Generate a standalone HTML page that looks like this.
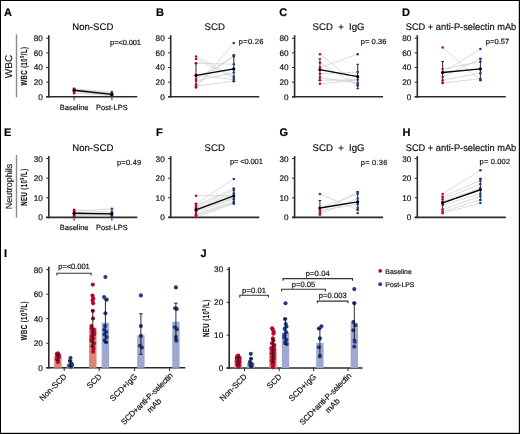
<!DOCTYPE html>
<html><head><meta charset="utf-8"><style>
html,body{margin:0;padding:0;background:#fff;}
body{width:520px;height:434px;overflow:hidden;}
svg{display:block;font-family:"Liberation Sans", sans-serif;will-change:transform;text-rendering:geometricPrecision;}
text{stroke-width:0.18px;}
</style></head><body>
<svg width="520" height="434" viewBox="0 0 520 434">
<rect x="0" y="0" width="520" height="434" fill="#fff"/>
<text x="3.90" y="15.80" font-size="11" text-anchor="start" fill="#000" stroke="#000" font-weight="bold" >A</text>
<text x="156.00" y="15.80" font-size="11" text-anchor="start" fill="#000" stroke="#000" font-weight="bold" >B</text>
<text x="279.20" y="15.80" font-size="11" text-anchor="start" fill="#000" stroke="#000" font-weight="bold" >C</text>
<text x="402.10" y="15.80" font-size="11" text-anchor="start" fill="#000" stroke="#000" font-weight="bold" >D</text>
<text x="4.10" y="136.40" font-size="11" text-anchor="start" fill="#000" stroke="#000" font-weight="bold" >E</text>
<text x="156.00" y="136.40" font-size="11" text-anchor="start" fill="#000" stroke="#000" font-weight="bold" >F</text>
<text x="279.50" y="136.40" font-size="11" text-anchor="start" fill="#000" stroke="#000" font-weight="bold" >G</text>
<text x="402.40" y="136.40" font-size="11" text-anchor="start" fill="#000" stroke="#000" font-weight="bold" >H</text>
<text x="4.00" y="256.80" font-size="11" text-anchor="start" fill="#000" stroke="#000" font-weight="bold" >I</text>
<text x="200.40" y="256.80" font-size="11" text-anchor="start" fill="#000" stroke="#000" font-weight="bold" >J</text>
<line x1="48.80" y1="35.20" x2="48.80" y2="97.60" stroke="#2a2a2a" stroke-width="1.6" />
<line x1="46.20" y1="96.80" x2="137.30" y2="96.80" stroke="#2a2a2a" stroke-width="1.6" />
<line x1="46.20" y1="96.80" x2="48.80" y2="96.80" stroke="#2a2a2a" stroke-width="1.0" />
<text x="42.80" y="99.75" font-size="8.2" text-anchor="end" fill="#111" stroke="#111" font-weight="normal" >0</text>
<line x1="46.20" y1="82.15" x2="48.80" y2="82.15" stroke="#2a2a2a" stroke-width="1.0" />
<text x="42.80" y="85.10" font-size="8.2" text-anchor="end" fill="#111" stroke="#111" font-weight="normal" >20</text>
<line x1="46.20" y1="67.50" x2="48.80" y2="67.50" stroke="#2a2a2a" stroke-width="1.0" />
<text x="42.80" y="70.45" font-size="8.2" text-anchor="end" fill="#111" stroke="#111" font-weight="normal" >40</text>
<line x1="46.20" y1="52.85" x2="48.80" y2="52.85" stroke="#2a2a2a" stroke-width="1.0" />
<text x="42.80" y="55.80" font-size="8.2" text-anchor="end" fill="#111" stroke="#111" font-weight="normal" >60</text>
<line x1="46.20" y1="38.20" x2="48.80" y2="38.20" stroke="#2a2a2a" stroke-width="1.0" />
<text x="42.80" y="41.15" font-size="8.2" text-anchor="end" fill="#111" stroke="#111" font-weight="normal" >80</text>
<line x1="74.10" y1="96.80" x2="74.10" y2="100.20" stroke="#2a2a2a" stroke-width="1.0" />
<line x1="111.90" y1="96.80" x2="111.90" y2="100.20" stroke="#2a2a2a" stroke-width="1.0" />
<text x="92.80" y="30.20" font-size="9.6" text-anchor="middle" fill="#111" stroke="#111" font-weight="normal" >Non-SCD</text>
<text x="110.10" y="44.90" font-size="7.5" text-anchor="start" fill="#111" stroke="#111" font-weight="normal" textLength="30.9" lengthAdjust="spacing">p=&lt;0.001</text>
<line x1="74.10" y1="88.74" x2="111.90" y2="92.04" stroke="#c2c2c2" stroke-width="0.6" />
<line x1="74.10" y1="89.47" x2="111.90" y2="93.14" stroke="#c2c2c2" stroke-width="0.6" />
<line x1="74.10" y1="90.21" x2="111.90" y2="93.87" stroke="#c2c2c2" stroke-width="0.6" />
<line x1="74.10" y1="90.94" x2="111.90" y2="94.60" stroke="#c2c2c2" stroke-width="0.6" />
<line x1="74.10" y1="91.67" x2="111.90" y2="95.33" stroke="#c2c2c2" stroke-width="0.6" />
<line x1="74.10" y1="93.14" x2="111.90" y2="95.70" stroke="#c2c2c2" stroke-width="0.6" />
<line x1="74.10" y1="88.38" x2="74.10" y2="92.04" stroke="#3a3a3a" stroke-width="1.1" />
<line x1="72.70" y1="88.38" x2="75.50" y2="88.38" stroke="#222" stroke-width="0.95" />
<line x1="72.70" y1="92.04" x2="75.50" y2="92.04" stroke="#222" stroke-width="0.95" />
<line x1="111.90" y1="92.77" x2="111.90" y2="96.07" stroke="#3a3a3a" stroke-width="1.1" />
<line x1="110.50" y1="92.77" x2="113.30" y2="92.77" stroke="#222" stroke-width="0.95" />
<line x1="110.50" y1="96.07" x2="113.30" y2="96.07" stroke="#222" stroke-width="0.95" />
<circle cx="74.10" cy="88.74" r="1.25" fill="#b8062c"/>
<circle cx="74.10" cy="89.47" r="1.25" fill="#b8062c"/>
<circle cx="74.10" cy="90.21" r="1.25" fill="#b8062c"/>
<circle cx="74.10" cy="90.94" r="1.25" fill="#b8062c"/>
<circle cx="74.10" cy="91.67" r="1.25" fill="#b8062c"/>
<circle cx="74.10" cy="93.14" r="1.25" fill="#b8062c"/>
<circle cx="111.90" cy="92.04" r="1.25" fill="#1c3c82"/>
<circle cx="111.90" cy="93.14" r="1.25" fill="#1c3c82"/>
<circle cx="111.90" cy="93.87" r="1.25" fill="#1c3c82"/>
<circle cx="111.90" cy="94.60" r="1.25" fill="#1c3c82"/>
<circle cx="111.90" cy="95.33" r="1.25" fill="#1c3c82"/>
<circle cx="111.90" cy="95.70" r="1.25" fill="#1c3c82"/>
<line x1="74.10" y1="90.21" x2="111.90" y2="94.38" stroke="#000" stroke-width="1.35" />
<circle cx="74.10" cy="90.21" r="1.55" fill="#000"/>
<circle cx="111.90" cy="94.38" r="1.55" fill="#000"/>
<text x="74.10" y="110.00" font-size="7.5" text-anchor="middle" fill="#111" stroke="#111" font-weight="normal" >Baseline</text>
<text x="111.90" y="110.00" font-size="7.5" text-anchor="middle" fill="#111" stroke="#111" font-weight="normal" >Post-LPS</text>
<line x1="170.70" y1="35.20" x2="170.70" y2="97.60" stroke="#2a2a2a" stroke-width="1.6" />
<line x1="168.10" y1="96.80" x2="259.20" y2="96.80" stroke="#2a2a2a" stroke-width="1.6" />
<line x1="168.10" y1="96.80" x2="170.70" y2="96.80" stroke="#2a2a2a" stroke-width="1.0" />
<text x="164.70" y="99.75" font-size="8.2" text-anchor="end" fill="#111" stroke="#111" font-weight="normal" >0</text>
<line x1="168.10" y1="82.15" x2="170.70" y2="82.15" stroke="#2a2a2a" stroke-width="1.0" />
<text x="164.70" y="85.10" font-size="8.2" text-anchor="end" fill="#111" stroke="#111" font-weight="normal" >20</text>
<line x1="168.10" y1="67.50" x2="170.70" y2="67.50" stroke="#2a2a2a" stroke-width="1.0" />
<text x="164.70" y="70.45" font-size="8.2" text-anchor="end" fill="#111" stroke="#111" font-weight="normal" >40</text>
<line x1="168.10" y1="52.85" x2="170.70" y2="52.85" stroke="#2a2a2a" stroke-width="1.0" />
<text x="164.70" y="55.80" font-size="8.2" text-anchor="end" fill="#111" stroke="#111" font-weight="normal" >60</text>
<line x1="168.10" y1="38.20" x2="170.70" y2="38.20" stroke="#2a2a2a" stroke-width="1.0" />
<text x="164.70" y="41.15" font-size="8.2" text-anchor="end" fill="#111" stroke="#111" font-weight="normal" >80</text>
<text x="214.70" y="30.20" font-size="9.6" text-anchor="middle" fill="#111" stroke="#111" font-weight="normal" >SCD</text>
<text x="238.80" y="44.00" font-size="7.5" text-anchor="start" fill="#111" stroke="#111" font-weight="normal" textLength="24.5" lengthAdjust="spacing">p=0.26</text>
<line x1="196.00" y1="56.44" x2="233.80" y2="76.44" stroke="#c2c2c2" stroke-width="0.6" />
<line x1="196.00" y1="59.00" x2="233.80" y2="77.90" stroke="#c2c2c2" stroke-width="0.6" />
<line x1="196.00" y1="63.25" x2="233.80" y2="64.20" stroke="#c2c2c2" stroke-width="0.6" />
<line x1="196.00" y1="74.90" x2="233.80" y2="79.66" stroke="#c2c2c2" stroke-width="0.6" />
<line x1="196.00" y1="76.07" x2="233.80" y2="69.55" stroke="#c2c2c2" stroke-width="0.6" />
<line x1="196.00" y1="79.07" x2="233.80" y2="56.59" stroke="#c2c2c2" stroke-width="0.6" />
<line x1="196.00" y1="80.90" x2="233.80" y2="72.55" stroke="#c2c2c2" stroke-width="0.6" />
<line x1="196.00" y1="84.49" x2="233.80" y2="55.19" stroke="#c2c2c2" stroke-width="0.6" />
<line x1="196.00" y1="85.96" x2="233.80" y2="81.20" stroke="#c2c2c2" stroke-width="0.6" />
<line x1="196.00" y1="87.42" x2="233.80" y2="43.03" stroke="#c2c2c2" stroke-width="0.6" />
<line x1="196.00" y1="63.25" x2="196.00" y2="87.13" stroke="#3a3a3a" stroke-width="1.1" />
<line x1="194.60" y1="63.25" x2="197.40" y2="63.25" stroke="#222" stroke-width="0.95" />
<line x1="194.60" y1="87.13" x2="197.40" y2="87.13" stroke="#222" stroke-width="0.95" />
<line x1="233.80" y1="55.05" x2="233.80" y2="81.27" stroke="#3a3a3a" stroke-width="1.1" />
<line x1="232.40" y1="55.05" x2="235.20" y2="55.05" stroke="#222" stroke-width="0.95" />
<line x1="232.40" y1="81.27" x2="235.20" y2="81.27" stroke="#222" stroke-width="0.95" />
<circle cx="196.00" cy="56.44" r="1.25" fill="#b8062c"/>
<circle cx="196.00" cy="59.00" r="1.25" fill="#b8062c"/>
<circle cx="196.00" cy="63.25" r="1.25" fill="#b8062c"/>
<circle cx="196.00" cy="74.90" r="1.25" fill="#b8062c"/>
<circle cx="196.00" cy="76.07" r="1.25" fill="#b8062c"/>
<circle cx="196.00" cy="79.07" r="1.25" fill="#b8062c"/>
<circle cx="196.00" cy="80.90" r="1.25" fill="#b8062c"/>
<circle cx="196.00" cy="84.49" r="1.25" fill="#b8062c"/>
<circle cx="196.00" cy="85.96" r="1.25" fill="#b8062c"/>
<circle cx="196.00" cy="87.42" r="1.25" fill="#b8062c"/>
<circle cx="233.80" cy="43.03" r="1.25" fill="#1c3c82"/>
<circle cx="233.80" cy="55.19" r="1.25" fill="#1c3c82"/>
<circle cx="233.80" cy="56.59" r="1.25" fill="#1c3c82"/>
<circle cx="233.80" cy="64.20" r="1.25" fill="#1c3c82"/>
<circle cx="233.80" cy="69.55" r="1.25" fill="#1c3c82"/>
<circle cx="233.80" cy="72.55" r="1.25" fill="#1c3c82"/>
<circle cx="233.80" cy="76.44" r="1.25" fill="#1c3c82"/>
<circle cx="233.80" cy="77.90" r="1.25" fill="#1c3c82"/>
<circle cx="233.80" cy="79.66" r="1.25" fill="#1c3c82"/>
<circle cx="233.80" cy="81.20" r="1.25" fill="#1c3c82"/>
<line x1="196.00" y1="75.34" x2="233.80" y2="68.82" stroke="#000" stroke-width="1.35" />
<circle cx="196.00" cy="75.34" r="1.55" fill="#000"/>
<circle cx="233.80" cy="68.82" r="1.55" fill="#000"/>
<line x1="294.60" y1="35.20" x2="294.60" y2="97.60" stroke="#2a2a2a" stroke-width="1.6" />
<line x1="292.00" y1="96.80" x2="383.10" y2="96.80" stroke="#2a2a2a" stroke-width="1.6" />
<line x1="292.00" y1="96.80" x2="294.60" y2="96.80" stroke="#2a2a2a" stroke-width="1.0" />
<text x="288.60" y="99.75" font-size="8.2" text-anchor="end" fill="#111" stroke="#111" font-weight="normal" >0</text>
<line x1="292.00" y1="82.15" x2="294.60" y2="82.15" stroke="#2a2a2a" stroke-width="1.0" />
<text x="288.60" y="85.10" font-size="8.2" text-anchor="end" fill="#111" stroke="#111" font-weight="normal" >20</text>
<line x1="292.00" y1="67.50" x2="294.60" y2="67.50" stroke="#2a2a2a" stroke-width="1.0" />
<text x="288.60" y="70.45" font-size="8.2" text-anchor="end" fill="#111" stroke="#111" font-weight="normal" >40</text>
<line x1="292.00" y1="52.85" x2="294.60" y2="52.85" stroke="#2a2a2a" stroke-width="1.0" />
<text x="288.60" y="55.80" font-size="8.2" text-anchor="end" fill="#111" stroke="#111" font-weight="normal" >60</text>
<line x1="292.00" y1="38.20" x2="294.60" y2="38.20" stroke="#2a2a2a" stroke-width="1.0" />
<text x="288.60" y="41.15" font-size="8.2" text-anchor="end" fill="#111" stroke="#111" font-weight="normal" >80</text>
<text x="338.60" y="30.20" font-size="9.6" text-anchor="middle" fill="#111" stroke="#111" font-weight="normal" >SCD&#160; +&#160; IgG</text>
<text x="360.70" y="44.40" font-size="7.5" text-anchor="start" fill="#111" stroke="#111" font-weight="normal" textLength="25.8" lengthAdjust="spacing">p= 0.36</text>
<line x1="319.90" y1="54.17" x2="357.70" y2="84.64" stroke="#c2c2c2" stroke-width="0.6" />
<line x1="319.90" y1="62.81" x2="357.70" y2="85.81" stroke="#c2c2c2" stroke-width="0.6" />
<line x1="319.90" y1="67.43" x2="357.70" y2="54.17" stroke="#c2c2c2" stroke-width="0.6" />
<line x1="319.90" y1="73.80" x2="357.70" y2="72.11" stroke="#c2c2c2" stroke-width="0.6" />
<line x1="319.90" y1="77.54" x2="357.70" y2="83.10" stroke="#c2c2c2" stroke-width="0.6" />
<line x1="319.90" y1="83.83" x2="357.70" y2="79.73" stroke="#c2c2c2" stroke-width="0.6" />
<line x1="319.90" y1="80.32" x2="357.70" y2="79.73" stroke="#c2c2c2" stroke-width="0.6" />
<line x1="319.90" y1="58.71" x2="319.90" y2="80.39" stroke="#3a3a3a" stroke-width="1.1" />
<line x1="318.50" y1="58.71" x2="321.30" y2="58.71" stroke="#222" stroke-width="0.95" />
<line x1="318.50" y1="80.39" x2="321.30" y2="80.39" stroke="#222" stroke-width="0.95" />
<line x1="357.70" y1="64.28" x2="357.70" y2="88.74" stroke="#3a3a3a" stroke-width="1.1" />
<line x1="356.30" y1="64.28" x2="359.10" y2="64.28" stroke="#222" stroke-width="0.95" />
<line x1="356.30" y1="88.74" x2="359.10" y2="88.74" stroke="#222" stroke-width="0.95" />
<circle cx="319.90" cy="54.17" r="1.25" fill="#b8062c"/>
<circle cx="319.90" cy="62.81" r="1.25" fill="#b8062c"/>
<circle cx="319.90" cy="67.43" r="1.25" fill="#b8062c"/>
<circle cx="319.90" cy="73.80" r="1.25" fill="#b8062c"/>
<circle cx="319.90" cy="77.54" r="1.25" fill="#b8062c"/>
<circle cx="319.90" cy="83.83" r="1.25" fill="#b8062c"/>
<circle cx="319.90" cy="80.32" r="1.25" fill="#b8062c"/>
<circle cx="357.70" cy="54.17" r="1.25" fill="#1c3c82"/>
<circle cx="357.70" cy="72.11" r="1.25" fill="#1c3c82"/>
<circle cx="357.70" cy="79.73" r="1.25" fill="#1c3c82"/>
<circle cx="357.70" cy="83.10" r="1.25" fill="#1c3c82"/>
<circle cx="357.70" cy="84.64" r="1.25" fill="#1c3c82"/>
<circle cx="357.70" cy="85.81" r="1.25" fill="#1c3c82"/>
<line x1="319.90" y1="69.70" x2="357.70" y2="76.66" stroke="#000" stroke-width="1.35" />
<circle cx="319.90" cy="69.70" r="1.55" fill="#000"/>
<circle cx="357.70" cy="76.66" r="1.55" fill="#000"/>
<line x1="417.30" y1="35.20" x2="417.30" y2="97.60" stroke="#2a2a2a" stroke-width="1.6" />
<line x1="414.70" y1="96.80" x2="505.80" y2="96.80" stroke="#2a2a2a" stroke-width="1.6" />
<line x1="414.70" y1="96.80" x2="417.30" y2="96.80" stroke="#2a2a2a" stroke-width="1.0" />
<text x="411.30" y="99.75" font-size="8.2" text-anchor="end" fill="#111" stroke="#111" font-weight="normal" >0</text>
<line x1="414.70" y1="82.15" x2="417.30" y2="82.15" stroke="#2a2a2a" stroke-width="1.0" />
<text x="411.30" y="85.10" font-size="8.2" text-anchor="end" fill="#111" stroke="#111" font-weight="normal" >20</text>
<line x1="414.70" y1="67.50" x2="417.30" y2="67.50" stroke="#2a2a2a" stroke-width="1.0" />
<text x="411.30" y="70.45" font-size="8.2" text-anchor="end" fill="#111" stroke="#111" font-weight="normal" >40</text>
<line x1="414.70" y1="52.85" x2="417.30" y2="52.85" stroke="#2a2a2a" stroke-width="1.0" />
<text x="411.30" y="55.80" font-size="8.2" text-anchor="end" fill="#111" stroke="#111" font-weight="normal" >60</text>
<line x1="414.70" y1="38.20" x2="417.30" y2="38.20" stroke="#2a2a2a" stroke-width="1.0" />
<text x="411.30" y="41.15" font-size="8.2" text-anchor="end" fill="#111" stroke="#111" font-weight="normal" >80</text>
<text x="461.00" y="30.20" font-size="9.6" text-anchor="middle" fill="#111" stroke="#111" font-weight="normal" textLength="110.6" lengthAdjust="spacingAndGlyphs">SCD + anti-P-selectin mAb</text>
<text x="485.70" y="44.00" font-size="7.5" text-anchor="start" fill="#111" stroke="#111" font-weight="normal" textLength="23.5" lengthAdjust="spacing">p=0.57</text>
<line x1="442.60" y1="47.43" x2="480.40" y2="80.32" stroke="#c2c2c2" stroke-width="0.6" />
<line x1="442.60" y1="68.97" x2="480.40" y2="61.79" stroke="#c2c2c2" stroke-width="0.6" />
<line x1="442.60" y1="72.48" x2="480.40" y2="49.04" stroke="#c2c2c2" stroke-width="0.6" />
<line x1="442.60" y1="76.88" x2="480.40" y2="58.71" stroke="#c2c2c2" stroke-width="0.6" />
<line x1="442.60" y1="80.32" x2="480.40" y2="73.14" stroke="#c2c2c2" stroke-width="0.6" />
<line x1="442.60" y1="83.03" x2="480.40" y2="78.63" stroke="#c2c2c2" stroke-width="0.6" />
<line x1="442.60" y1="61.49" x2="442.60" y2="83.10" stroke="#3a3a3a" stroke-width="1.1" />
<line x1="441.20" y1="61.49" x2="444.00" y2="61.49" stroke="#222" stroke-width="0.95" />
<line x1="441.20" y1="83.10" x2="444.00" y2="83.10" stroke="#222" stroke-width="0.95" />
<line x1="480.40" y1="58.49" x2="480.40" y2="79.95" stroke="#3a3a3a" stroke-width="1.1" />
<line x1="479.00" y1="58.49" x2="481.80" y2="58.49" stroke="#222" stroke-width="0.95" />
<line x1="479.00" y1="79.95" x2="481.80" y2="79.95" stroke="#222" stroke-width="0.95" />
<circle cx="442.60" cy="47.43" r="1.25" fill="#b8062c"/>
<circle cx="442.60" cy="68.97" r="1.25" fill="#b8062c"/>
<circle cx="442.60" cy="72.48" r="1.25" fill="#b8062c"/>
<circle cx="442.60" cy="76.88" r="1.25" fill="#b8062c"/>
<circle cx="442.60" cy="80.32" r="1.25" fill="#b8062c"/>
<circle cx="442.60" cy="83.03" r="1.25" fill="#b8062c"/>
<circle cx="480.40" cy="49.04" r="1.25" fill="#1c3c82"/>
<circle cx="480.40" cy="58.71" r="1.25" fill="#1c3c82"/>
<circle cx="480.40" cy="61.79" r="1.25" fill="#1c3c82"/>
<circle cx="480.40" cy="73.14" r="1.25" fill="#1c3c82"/>
<circle cx="480.40" cy="78.63" r="1.25" fill="#1c3c82"/>
<circle cx="480.40" cy="80.32" r="1.25" fill="#1c3c82"/>
<line x1="442.60" y1="72.48" x2="480.40" y2="68.89" stroke="#000" stroke-width="1.35" />
<circle cx="442.60" cy="72.48" r="1.55" fill="#000"/>
<circle cx="480.40" cy="68.89" r="1.55" fill="#000"/>
<line x1="48.80" y1="156.00" x2="48.80" y2="218.20" stroke="#2a2a2a" stroke-width="1.6" />
<line x1="46.20" y1="217.40" x2="137.30" y2="217.40" stroke="#2a2a2a" stroke-width="1.6" />
<line x1="46.20" y1="217.40" x2="48.80" y2="217.40" stroke="#2a2a2a" stroke-width="1.0" />
<text x="42.80" y="220.35" font-size="8.2" text-anchor="end" fill="#111" stroke="#111" font-weight="normal" >0</text>
<line x1="46.20" y1="197.80" x2="48.80" y2="197.80" stroke="#2a2a2a" stroke-width="1.0" />
<text x="42.80" y="200.75" font-size="8.2" text-anchor="end" fill="#111" stroke="#111" font-weight="normal" >10</text>
<line x1="46.20" y1="178.20" x2="48.80" y2="178.20" stroke="#2a2a2a" stroke-width="1.0" />
<text x="42.80" y="181.15" font-size="8.2" text-anchor="end" fill="#111" stroke="#111" font-weight="normal" >20</text>
<line x1="46.20" y1="158.60" x2="48.80" y2="158.60" stroke="#2a2a2a" stroke-width="1.0" />
<text x="42.80" y="161.55" font-size="8.2" text-anchor="end" fill="#111" stroke="#111" font-weight="normal" >30</text>
<line x1="74.10" y1="217.40" x2="74.10" y2="220.80" stroke="#2a2a2a" stroke-width="1.0" />
<line x1="111.90" y1="217.40" x2="111.90" y2="220.80" stroke="#2a2a2a" stroke-width="1.0" />
<text x="92.80" y="151.00" font-size="9.6" text-anchor="middle" fill="#111" stroke="#111" font-weight="normal" >Non-SCD</text>
<text x="116.90" y="165.00" font-size="7.5" text-anchor="start" fill="#111" stroke="#111" font-weight="normal" textLength="24.3" lengthAdjust="spacing">p=0.49</text>
<line x1="74.10" y1="209.76" x2="111.90" y2="212.50" stroke="#c2c2c2" stroke-width="0.6" />
<line x1="74.10" y1="211.52" x2="111.90" y2="208.78" stroke="#c2c2c2" stroke-width="0.6" />
<line x1="74.10" y1="212.50" x2="111.90" y2="213.48" stroke="#c2c2c2" stroke-width="0.6" />
<line x1="74.10" y1="213.48" x2="111.90" y2="214.46" stroke="#c2c2c2" stroke-width="0.6" />
<line x1="74.10" y1="214.46" x2="111.90" y2="215.44" stroke="#c2c2c2" stroke-width="0.6" />
<line x1="74.10" y1="215.44" x2="111.90" y2="216.42" stroke="#c2c2c2" stroke-width="0.6" />
<line x1="74.10" y1="210.54" x2="74.10" y2="216.22" stroke="#3a3a3a" stroke-width="1.1" />
<line x1="72.70" y1="210.54" x2="75.50" y2="210.54" stroke="#222" stroke-width="0.95" />
<line x1="72.70" y1="216.22" x2="75.50" y2="216.22" stroke="#222" stroke-width="0.95" />
<line x1="111.90" y1="210.93" x2="111.90" y2="216.62" stroke="#3a3a3a" stroke-width="1.1" />
<line x1="110.50" y1="210.93" x2="113.30" y2="210.93" stroke="#222" stroke-width="0.95" />
<line x1="110.50" y1="216.62" x2="113.30" y2="216.62" stroke="#222" stroke-width="0.95" />
<circle cx="74.10" cy="209.76" r="1.25" fill="#b8062c"/>
<circle cx="74.10" cy="211.52" r="1.25" fill="#b8062c"/>
<circle cx="74.10" cy="212.50" r="1.25" fill="#b8062c"/>
<circle cx="74.10" cy="213.48" r="1.25" fill="#b8062c"/>
<circle cx="74.10" cy="214.46" r="1.25" fill="#b8062c"/>
<circle cx="74.10" cy="215.44" r="1.25" fill="#b8062c"/>
<circle cx="74.10" cy="216.42" r="1.25" fill="#b8062c"/>
<circle cx="111.90" cy="208.78" r="1.25" fill="#1c3c82"/>
<circle cx="111.90" cy="212.50" r="1.25" fill="#1c3c82"/>
<circle cx="111.90" cy="213.48" r="1.25" fill="#1c3c82"/>
<circle cx="111.90" cy="214.46" r="1.25" fill="#1c3c82"/>
<circle cx="111.90" cy="215.44" r="1.25" fill="#1c3c82"/>
<circle cx="111.90" cy="216.42" r="1.25" fill="#1c3c82"/>
<line x1="74.10" y1="213.28" x2="111.90" y2="213.87" stroke="#000" stroke-width="1.35" />
<circle cx="74.10" cy="213.28" r="1.55" fill="#000"/>
<circle cx="111.90" cy="213.87" r="1.55" fill="#000"/>
<text x="74.10" y="230.40" font-size="7.5" text-anchor="middle" fill="#111" stroke="#111" font-weight="normal" >Baseline</text>
<text x="111.90" y="230.40" font-size="7.5" text-anchor="middle" fill="#111" stroke="#111" font-weight="normal" >Post-LPS</text>
<line x1="170.70" y1="156.00" x2="170.70" y2="218.20" stroke="#2a2a2a" stroke-width="1.6" />
<line x1="168.10" y1="217.40" x2="259.20" y2="217.40" stroke="#2a2a2a" stroke-width="1.6" />
<line x1="168.10" y1="217.40" x2="170.70" y2="217.40" stroke="#2a2a2a" stroke-width="1.0" />
<text x="164.70" y="220.35" font-size="8.2" text-anchor="end" fill="#111" stroke="#111" font-weight="normal" >0</text>
<line x1="168.10" y1="197.80" x2="170.70" y2="197.80" stroke="#2a2a2a" stroke-width="1.0" />
<text x="164.70" y="200.75" font-size="8.2" text-anchor="end" fill="#111" stroke="#111" font-weight="normal" >10</text>
<line x1="168.10" y1="178.20" x2="170.70" y2="178.20" stroke="#2a2a2a" stroke-width="1.0" />
<text x="164.70" y="181.15" font-size="8.2" text-anchor="end" fill="#111" stroke="#111" font-weight="normal" >20</text>
<line x1="168.10" y1="158.60" x2="170.70" y2="158.60" stroke="#2a2a2a" stroke-width="1.0" />
<text x="164.70" y="161.55" font-size="8.2" text-anchor="end" fill="#111" stroke="#111" font-weight="normal" >30</text>
<text x="214.70" y="151.00" font-size="9.6" text-anchor="middle" fill="#111" stroke="#111" font-weight="normal" >SCD</text>
<text x="230.00" y="164.40" font-size="7.5" text-anchor="start" fill="#111" stroke="#111" font-weight="normal" textLength="32.8" lengthAdjust="spacing">p= &lt;0.001</text>
<line x1="196.00" y1="195.64" x2="233.80" y2="195.84" stroke="#c2c2c2" stroke-width="0.6" />
<line x1="196.00" y1="203.68" x2="233.80" y2="178.98" stroke="#c2c2c2" stroke-width="0.6" />
<line x1="196.00" y1="205.44" x2="233.80" y2="188.59" stroke="#c2c2c2" stroke-width="0.6" />
<line x1="196.00" y1="207.21" x2="233.80" y2="190.35" stroke="#c2c2c2" stroke-width="0.6" />
<line x1="196.00" y1="208.58" x2="233.80" y2="193.29" stroke="#c2c2c2" stroke-width="0.6" />
<line x1="196.00" y1="210.54" x2="233.80" y2="197.80" stroke="#c2c2c2" stroke-width="0.6" />
<line x1="196.00" y1="211.91" x2="233.80" y2="199.17" stroke="#c2c2c2" stroke-width="0.6" />
<line x1="196.00" y1="214.26" x2="233.80" y2="201.52" stroke="#c2c2c2" stroke-width="0.6" />
<line x1="196.00" y1="215.44" x2="233.80" y2="202.70" stroke="#c2c2c2" stroke-width="0.6" />
<line x1="196.00" y1="217.01" x2="233.80" y2="203.68" stroke="#c2c2c2" stroke-width="0.6" />
<line x1="196.00" y1="203.68" x2="196.00" y2="215.83" stroke="#3a3a3a" stroke-width="1.1" />
<line x1="194.60" y1="203.68" x2="197.40" y2="203.68" stroke="#222" stroke-width="0.95" />
<line x1="194.60" y1="215.83" x2="197.40" y2="215.83" stroke="#222" stroke-width="0.95" />
<line x1="233.80" y1="188.59" x2="233.80" y2="203.29" stroke="#3a3a3a" stroke-width="1.1" />
<line x1="232.40" y1="188.59" x2="235.20" y2="188.59" stroke="#222" stroke-width="0.95" />
<line x1="232.40" y1="203.29" x2="235.20" y2="203.29" stroke="#222" stroke-width="0.95" />
<circle cx="196.00" cy="195.64" r="1.25" fill="#b8062c"/>
<circle cx="196.00" cy="203.68" r="1.25" fill="#b8062c"/>
<circle cx="196.00" cy="205.44" r="1.25" fill="#b8062c"/>
<circle cx="196.00" cy="207.21" r="1.25" fill="#b8062c"/>
<circle cx="196.00" cy="208.58" r="1.25" fill="#b8062c"/>
<circle cx="196.00" cy="210.54" r="1.25" fill="#b8062c"/>
<circle cx="196.00" cy="211.91" r="1.25" fill="#b8062c"/>
<circle cx="196.00" cy="214.26" r="1.25" fill="#b8062c"/>
<circle cx="196.00" cy="215.44" r="1.25" fill="#b8062c"/>
<circle cx="196.00" cy="217.01" r="1.25" fill="#b8062c"/>
<circle cx="233.80" cy="178.98" r="1.25" fill="#1c3c82"/>
<circle cx="233.80" cy="188.59" r="1.25" fill="#1c3c82"/>
<circle cx="233.80" cy="190.35" r="1.25" fill="#1c3c82"/>
<circle cx="233.80" cy="193.29" r="1.25" fill="#1c3c82"/>
<circle cx="233.80" cy="195.84" r="1.25" fill="#1c3c82"/>
<circle cx="233.80" cy="197.80" r="1.25" fill="#1c3c82"/>
<circle cx="233.80" cy="199.17" r="1.25" fill="#1c3c82"/>
<circle cx="233.80" cy="201.52" r="1.25" fill="#1c3c82"/>
<circle cx="233.80" cy="202.70" r="1.25" fill="#1c3c82"/>
<circle cx="233.80" cy="203.68" r="1.25" fill="#1c3c82"/>
<line x1="196.00" y1="209.76" x2="233.80" y2="195.84" stroke="#000" stroke-width="1.35" />
<circle cx="196.00" cy="209.76" r="1.55" fill="#000"/>
<circle cx="233.80" cy="195.84" r="1.55" fill="#000"/>
<line x1="294.60" y1="156.00" x2="294.60" y2="218.20" stroke="#2a2a2a" stroke-width="1.6" />
<line x1="292.00" y1="217.40" x2="383.10" y2="217.40" stroke="#2a2a2a" stroke-width="1.6" />
<line x1="292.00" y1="217.40" x2="294.60" y2="217.40" stroke="#2a2a2a" stroke-width="1.0" />
<text x="288.60" y="220.35" font-size="8.2" text-anchor="end" fill="#111" stroke="#111" font-weight="normal" >0</text>
<line x1="292.00" y1="197.80" x2="294.60" y2="197.80" stroke="#2a2a2a" stroke-width="1.0" />
<text x="288.60" y="200.75" font-size="8.2" text-anchor="end" fill="#111" stroke="#111" font-weight="normal" >10</text>
<line x1="292.00" y1="178.20" x2="294.60" y2="178.20" stroke="#2a2a2a" stroke-width="1.0" />
<text x="288.60" y="181.15" font-size="8.2" text-anchor="end" fill="#111" stroke="#111" font-weight="normal" >20</text>
<line x1="292.00" y1="158.60" x2="294.60" y2="158.60" stroke="#2a2a2a" stroke-width="1.0" />
<text x="288.60" y="161.55" font-size="8.2" text-anchor="end" fill="#111" stroke="#111" font-weight="normal" >30</text>
<text x="338.60" y="151.00" font-size="9.6" text-anchor="middle" fill="#111" stroke="#111" font-weight="normal" >SCD&#160; +&#160; IgG</text>
<text x="360.80" y="165.00" font-size="7.5" text-anchor="start" fill="#111" stroke="#111" font-weight="normal" textLength="26.5" lengthAdjust="spacing">p= 0.36</text>
<line x1="319.90" y1="194.08" x2="357.70" y2="209.76" stroke="#c2c2c2" stroke-width="0.6" />
<line x1="319.90" y1="207.99" x2="357.70" y2="193.88" stroke="#c2c2c2" stroke-width="0.6" />
<line x1="319.90" y1="212.50" x2="357.70" y2="191.92" stroke="#c2c2c2" stroke-width="0.6" />
<line x1="319.90" y1="214.07" x2="357.70" y2="198.58" stroke="#c2c2c2" stroke-width="0.6" />
<line x1="319.90" y1="210.54" x2="357.70" y2="204.27" stroke="#c2c2c2" stroke-width="0.6" />
<line x1="319.90" y1="200.54" x2="319.90" y2="215.05" stroke="#3a3a3a" stroke-width="1.1" />
<line x1="318.50" y1="200.54" x2="321.30" y2="200.54" stroke="#222" stroke-width="0.95" />
<line x1="318.50" y1="215.05" x2="321.30" y2="215.05" stroke="#222" stroke-width="0.95" />
<line x1="357.70" y1="191.92" x2="357.70" y2="209.95" stroke="#3a3a3a" stroke-width="1.1" />
<line x1="356.30" y1="191.92" x2="359.10" y2="191.92" stroke="#222" stroke-width="0.95" />
<line x1="356.30" y1="209.95" x2="359.10" y2="209.95" stroke="#222" stroke-width="0.95" />
<circle cx="319.90" cy="194.08" r="1.25" fill="#b8062c"/>
<circle cx="319.90" cy="207.99" r="1.25" fill="#b8062c"/>
<circle cx="319.90" cy="212.50" r="1.25" fill="#b8062c"/>
<circle cx="319.90" cy="214.07" r="1.25" fill="#b8062c"/>
<circle cx="319.90" cy="210.54" r="1.25" fill="#b8062c"/>
<circle cx="357.70" cy="191.92" r="1.25" fill="#1c3c82"/>
<circle cx="357.70" cy="193.88" r="1.25" fill="#1c3c82"/>
<circle cx="357.70" cy="198.58" r="1.25" fill="#1c3c82"/>
<circle cx="357.70" cy="204.27" r="1.25" fill="#1c3c82"/>
<circle cx="357.70" cy="207.80" r="1.25" fill="#1c3c82"/>
<circle cx="357.70" cy="209.76" r="1.25" fill="#1c3c82"/>
<circle cx="357.70" cy="213.09" r="1.25" fill="#1c3c82"/>
<line x1="319.90" y1="207.99" x2="357.70" y2="201.92" stroke="#000" stroke-width="1.35" />
<circle cx="319.90" cy="207.99" r="1.55" fill="#000"/>
<circle cx="357.70" cy="201.92" r="1.55" fill="#000"/>
<line x1="417.30" y1="156.00" x2="417.30" y2="218.20" stroke="#2a2a2a" stroke-width="1.6" />
<line x1="414.70" y1="217.40" x2="505.80" y2="217.40" stroke="#2a2a2a" stroke-width="1.6" />
<line x1="414.70" y1="217.40" x2="417.30" y2="217.40" stroke="#2a2a2a" stroke-width="1.0" />
<text x="411.30" y="220.35" font-size="8.2" text-anchor="end" fill="#111" stroke="#111" font-weight="normal" >0</text>
<line x1="414.70" y1="197.80" x2="417.30" y2="197.80" stroke="#2a2a2a" stroke-width="1.0" />
<text x="411.30" y="200.75" font-size="8.2" text-anchor="end" fill="#111" stroke="#111" font-weight="normal" >10</text>
<line x1="414.70" y1="178.20" x2="417.30" y2="178.20" stroke="#2a2a2a" stroke-width="1.0" />
<text x="411.30" y="181.15" font-size="8.2" text-anchor="end" fill="#111" stroke="#111" font-weight="normal" >20</text>
<line x1="414.70" y1="158.60" x2="417.30" y2="158.60" stroke="#2a2a2a" stroke-width="1.0" />
<text x="411.30" y="161.55" font-size="8.2" text-anchor="end" fill="#111" stroke="#111" font-weight="normal" >30</text>
<text x="461.00" y="151.00" font-size="9.6" text-anchor="middle" fill="#111" stroke="#111" font-weight="normal" textLength="110.6" lengthAdjust="spacingAndGlyphs">SCD + anti-P-selectin mAb</text>
<text x="479.60" y="164.40" font-size="7.5" text-anchor="start" fill="#111" stroke="#111" font-weight="normal" textLength="30.5" lengthAdjust="spacing">p= 0.002</text>
<line x1="442.60" y1="194.08" x2="480.40" y2="170.36" stroke="#c2c2c2" stroke-width="0.6" />
<line x1="442.60" y1="196.82" x2="480.40" y2="180.55" stroke="#c2c2c2" stroke-width="0.6" />
<line x1="442.60" y1="199.37" x2="480.40" y2="184.08" stroke="#c2c2c2" stroke-width="0.6" />
<line x1="442.60" y1="201.72" x2="480.40" y2="188.00" stroke="#c2c2c2" stroke-width="0.6" />
<line x1="442.60" y1="205.05" x2="480.40" y2="193.68" stroke="#c2c2c2" stroke-width="0.6" />
<line x1="442.60" y1="209.56" x2="480.40" y2="196.23" stroke="#c2c2c2" stroke-width="0.6" />
<line x1="442.60" y1="211.72" x2="480.40" y2="199.96" stroke="#c2c2c2" stroke-width="0.6" />
<line x1="442.60" y1="213.28" x2="480.40" y2="203.09" stroke="#c2c2c2" stroke-width="0.6" />
<line x1="442.60" y1="196.82" x2="442.60" y2="209.76" stroke="#3a3a3a" stroke-width="1.1" />
<line x1="441.20" y1="196.82" x2="444.00" y2="196.82" stroke="#222" stroke-width="0.95" />
<line x1="441.20" y1="209.76" x2="444.00" y2="209.76" stroke="#222" stroke-width="0.95" />
<line x1="480.40" y1="178.79" x2="480.40" y2="199.96" stroke="#3a3a3a" stroke-width="1.1" />
<line x1="479.00" y1="178.79" x2="481.80" y2="178.79" stroke="#222" stroke-width="0.95" />
<line x1="479.00" y1="199.96" x2="481.80" y2="199.96" stroke="#222" stroke-width="0.95" />
<circle cx="442.60" cy="194.08" r="1.25" fill="#b8062c"/>
<circle cx="442.60" cy="196.82" r="1.25" fill="#b8062c"/>
<circle cx="442.60" cy="199.37" r="1.25" fill="#b8062c"/>
<circle cx="442.60" cy="205.05" r="1.25" fill="#b8062c"/>
<circle cx="442.60" cy="209.56" r="1.25" fill="#b8062c"/>
<circle cx="442.60" cy="211.72" r="1.25" fill="#b8062c"/>
<circle cx="442.60" cy="213.28" r="1.25" fill="#b8062c"/>
<circle cx="442.60" cy="201.72" r="1.25" fill="#b8062c"/>
<circle cx="480.40" cy="170.36" r="1.25" fill="#1c3c82"/>
<circle cx="480.40" cy="178.79" r="1.25" fill="#1c3c82"/>
<circle cx="480.40" cy="180.55" r="1.25" fill="#1c3c82"/>
<circle cx="480.40" cy="184.08" r="1.25" fill="#1c3c82"/>
<circle cx="480.40" cy="193.68" r="1.25" fill="#1c3c82"/>
<circle cx="480.40" cy="196.23" r="1.25" fill="#1c3c82"/>
<circle cx="480.40" cy="199.96" r="1.25" fill="#1c3c82"/>
<circle cx="480.40" cy="203.09" r="1.25" fill="#1c3c82"/>
<circle cx="480.40" cy="188.00" r="1.25" fill="#1c3c82"/>
<line x1="442.60" y1="202.90" x2="480.40" y2="189.76" stroke="#000" stroke-width="1.35" />
<circle cx="442.60" cy="202.90" r="1.55" fill="#000"/>
<circle cx="480.40" cy="189.76" r="1.55" fill="#000"/>
<line x1="16.50" y1="34.40" x2="16.50" y2="97.40" stroke="#8a8a8a" stroke-width="1.4" />
<line x1="16.50" y1="155.00" x2="16.50" y2="217.60" stroke="#8a8a8a" stroke-width="1.4" />
<text transform="translate(12.2,66.5) rotate(-90)" font-size="10" text-anchor="middle" fill="#222" stroke="#222">WBC</text>
<text transform="translate(12.0,186.5) rotate(-90)" font-size="9" text-anchor="middle" fill="#222" stroke="#222">Neutrophils</text>
<text transform="translate(27.2,66.3) rotate(-90) scale(0.68,1)" font-size="8.8" font-weight="bold" text-anchor="middle" fill="#111" stroke="#111" style="stroke-width:0.1px" textLength="56.76" lengthAdjust="spacing">WBC (10<tspan font-size="5.8" dy="-3.2">9</tspan><tspan dy="3.2">/L)</tspan></text>
<text transform="translate(27.2,187.3) rotate(-90) scale(0.68,1)" font-size="8.8" font-weight="bold" text-anchor="middle" fill="#111" stroke="#111" style="stroke-width:0.1px" textLength="54.41" lengthAdjust="spacing">NEU (10<tspan font-size="5.8" dy="-3.2">9</tspan><tspan dy="3.2">/L)</tspan></text>
<line x1="48.80" y1="266.80" x2="48.80" y2="368.60" stroke="#2a2a2a" stroke-width="1.6" />
<line x1="46.20" y1="367.80" x2="185.30" y2="367.80" stroke="#2a2a2a" stroke-width="1.6" />
<line x1="46.20" y1="367.80" x2="48.80" y2="367.80" stroke="#2a2a2a" stroke-width="1.0" />
<text x="42.80" y="370.75" font-size="8.2" text-anchor="end" fill="#111" stroke="#111" font-weight="normal" >0</text>
<line x1="46.20" y1="343.25" x2="48.80" y2="343.25" stroke="#2a2a2a" stroke-width="1.0" />
<text x="42.80" y="346.20" font-size="8.2" text-anchor="end" fill="#111" stroke="#111" font-weight="normal" >20</text>
<line x1="46.20" y1="318.70" x2="48.80" y2="318.70" stroke="#2a2a2a" stroke-width="1.0" />
<text x="42.80" y="321.65" font-size="8.2" text-anchor="end" fill="#111" stroke="#111" font-weight="normal" >40</text>
<line x1="46.20" y1="294.15" x2="48.80" y2="294.15" stroke="#2a2a2a" stroke-width="1.0" />
<text x="42.80" y="297.10" font-size="8.2" text-anchor="end" fill="#111" stroke="#111" font-weight="normal" >60</text>
<line x1="46.20" y1="269.60" x2="48.80" y2="269.60" stroke="#2a2a2a" stroke-width="1.0" />
<text x="42.80" y="272.55" font-size="8.2" text-anchor="end" fill="#111" stroke="#111" font-weight="normal" >80</text>
<line x1="64.20" y1="367.80" x2="64.20" y2="371.00" stroke="#2a2a2a" stroke-width="1.0" />
<rect x="54.20" y="356.38" width="7.4" height="11.42" fill="#d98676"/>
<circle cx="57.90" cy="353.32" r="2.05" fill="#b8062c"/>
<circle cx="56.70" cy="354.05" r="2.05" fill="#b8062c"/>
<circle cx="59.10" cy="355.40" r="2.05" fill="#b8062c"/>
<circle cx="57.30" cy="356.14" r="2.05" fill="#b8062c"/>
<circle cx="58.70" cy="357.49" r="2.05" fill="#b8062c"/>
<circle cx="56.90" cy="359.21" r="2.05" fill="#b8062c"/>
<circle cx="57.90" cy="362.03" r="2.05" fill="#b8062c"/>
<line x1="57.90" y1="354.42" x2="57.90" y2="360.31" stroke="#111" stroke-width="0.9" />
<line x1="56.10" y1="354.42" x2="59.70" y2="354.42" stroke="#111" stroke-width="0.9" />
<line x1="56.10" y1="360.31" x2="59.70" y2="360.31" stroke="#111" stroke-width="0.9" />
<rect x="66.80" y="363.75" width="7.4" height="4.05" fill="#a1a8d0"/>
<circle cx="70.50" cy="357.98" r="2.05" fill="#1c3c82"/>
<circle cx="69.90" cy="361.05" r="2.05" fill="#1c3c82"/>
<circle cx="71.40" cy="363.50" r="2.05" fill="#1c3c82"/>
<circle cx="69.40" cy="365.47" r="2.05" fill="#1c3c82"/>
<circle cx="70.90" cy="366.82" r="2.05" fill="#1c3c82"/>
<circle cx="71.90" cy="364.73" r="2.05" fill="#1c3c82"/>
<line x1="70.50" y1="360.68" x2="70.50" y2="366.57" stroke="#111" stroke-width="0.9" />
<line x1="68.70" y1="360.68" x2="72.30" y2="360.68" stroke="#111" stroke-width="0.9" />
<line x1="68.70" y1="366.57" x2="72.30" y2="366.57" stroke="#111" stroke-width="0.9" />
<text transform="translate(67.20,377.00) rotate(-45)" font-size="8.1" text-anchor="end" fill="#111" stroke="#111" >Non-SCD</text>
<line x1="99.10" y1="367.80" x2="99.10" y2="371.00" stroke="#2a2a2a" stroke-width="1.0" />
<rect x="89.10" y="327.54" width="7.4" height="40.26" fill="#d98676"/>
<circle cx="92.80" cy="284.58" r="2.05" fill="#b8062c"/>
<circle cx="92.50" cy="295.62" r="2.05" fill="#b8062c"/>
<circle cx="93.20" cy="298.32" r="2.05" fill="#b8062c"/>
<circle cx="92.60" cy="300.29" r="2.05" fill="#b8062c"/>
<circle cx="93.10" cy="303.36" r="2.05" fill="#b8062c"/>
<circle cx="92.80" cy="310.84" r="2.05" fill="#b8062c"/>
<circle cx="93.00" cy="318.45" r="2.05" fill="#b8062c"/>
<circle cx="91.60" cy="328.15" r="2.05" fill="#b8062c"/>
<circle cx="93.80" cy="329.87" r="2.05" fill="#b8062c"/>
<circle cx="92.20" cy="331.96" r="2.05" fill="#b8062c"/>
<circle cx="94.10" cy="334.41" r="2.05" fill="#b8062c"/>
<circle cx="91.80" cy="336.13" r="2.05" fill="#b8062c"/>
<circle cx="93.30" cy="338.59" r="2.05" fill="#b8062c"/>
<circle cx="92.00" cy="341.29" r="2.05" fill="#b8062c"/>
<circle cx="94.00" cy="343.37" r="2.05" fill="#b8062c"/>
<circle cx="92.40" cy="346.07" r="2.05" fill="#b8062c"/>
<circle cx="93.40" cy="348.65" r="2.05" fill="#b8062c"/>
<circle cx="93.00" cy="351.72" r="2.05" fill="#b8062c"/>
<circle cx="91.40" cy="326.06" r="2.05" fill="#b8062c"/>
<circle cx="94.30" cy="332.82" r="2.05" fill="#b8062c"/>
<circle cx="91.30" cy="339.81" r="2.05" fill="#b8062c"/>
<line x1="92.80" y1="310.84" x2="92.80" y2="346.44" stroke="#111" stroke-width="0.9" />
<line x1="91.00" y1="310.84" x2="94.60" y2="310.84" stroke="#111" stroke-width="0.9" />
<line x1="91.00" y1="346.44" x2="94.60" y2="346.44" stroke="#111" stroke-width="0.9" />
<rect x="101.70" y="322.63" width="7.4" height="45.17" fill="#a1a8d0"/>
<circle cx="105.40" cy="276.97" r="2.05" fill="#1c3c82"/>
<circle cx="104.10" cy="296.97" r="2.05" fill="#1c3c82"/>
<circle cx="106.70" cy="299.67" r="2.05" fill="#1c3c82"/>
<circle cx="105.40" cy="313.18" r="2.05" fill="#1c3c82"/>
<circle cx="105.00" cy="326.06" r="2.05" fill="#1c3c82"/>
<circle cx="106.20" cy="331.96" r="2.05" fill="#1c3c82"/>
<circle cx="104.40" cy="334.41" r="2.05" fill="#1c3c82"/>
<circle cx="106.60" cy="337.11" r="2.05" fill="#1c3c82"/>
<circle cx="104.70" cy="340.30" r="2.05" fill="#1c3c82"/>
<circle cx="106.20" cy="342.27" r="2.05" fill="#1c3c82"/>
<circle cx="104.20" cy="329.75" r="2.05" fill="#1c3c82"/>
<line x1="105.40" y1="299.67" x2="105.40" y2="342.27" stroke="#111" stroke-width="0.9" />
<line x1="103.60" y1="299.67" x2="107.20" y2="299.67" stroke="#111" stroke-width="0.9" />
<line x1="103.60" y1="342.27" x2="107.20" y2="342.27" stroke="#111" stroke-width="0.9" />
<text transform="translate(102.10,377.00) rotate(-45)" font-size="8.1" text-anchor="end" fill="#111" stroke="#111" >SCD</text>
<line x1="134.60" y1="367.80" x2="134.60" y2="371.00" stroke="#2a2a2a" stroke-width="1.0" />
<rect x="137.20" y="335.27" width="7.4" height="32.53" fill="#a1a8d0"/>
<circle cx="140.90" cy="295.38" r="2.05" fill="#1c3c82"/>
<circle cx="140.90" cy="326.06" r="2.05" fill="#1c3c82"/>
<circle cx="140.90" cy="335.88" r="2.05" fill="#1c3c82"/>
<circle cx="139.90" cy="345.71" r="2.05" fill="#1c3c82"/>
<circle cx="141.90" cy="347.55" r="2.05" fill="#1c3c82"/>
<line x1="140.90" y1="313.79" x2="140.90" y2="354.30" stroke="#111" stroke-width="0.9" />
<line x1="139.10" y1="313.79" x2="142.70" y2="313.79" stroke="#111" stroke-width="0.9" />
<line x1="139.10" y1="354.30" x2="142.70" y2="354.30" stroke="#111" stroke-width="0.9" />
<text transform="translate(137.60,377.00) rotate(-45)" font-size="8.1" text-anchor="end" fill="#111" stroke="#111" >SCD+IgG</text>
<line x1="169.60" y1="367.80" x2="169.60" y2="371.00" stroke="#2a2a2a" stroke-width="1.0" />
<rect x="172.20" y="321.77" width="7.4" height="46.03" fill="#a1a8d0"/>
<circle cx="175.90" cy="287.40" r="2.05" fill="#1c3c82"/>
<circle cx="175.10" cy="308.27" r="2.05" fill="#1c3c82"/>
<circle cx="176.70" cy="308.88" r="2.05" fill="#1c3c82"/>
<circle cx="174.90" cy="327.29" r="2.05" fill="#1c3c82"/>
<circle cx="176.90" cy="329.13" r="2.05" fill="#1c3c82"/>
<circle cx="175.90" cy="337.11" r="2.05" fill="#1c3c82"/>
<circle cx="176.40" cy="340.80" r="2.05" fill="#1c3c82"/>
<line x1="175.90" y1="303.23" x2="175.90" y2="339.57" stroke="#111" stroke-width="0.9" />
<line x1="174.10" y1="303.23" x2="177.70" y2="303.23" stroke="#111" stroke-width="0.9" />
<line x1="174.10" y1="339.57" x2="177.70" y2="339.57" stroke="#111" stroke-width="0.9" />
<text transform="translate(173.45,376.15) rotate(-45)" font-size="8.1" text-anchor="end" fill="#111" stroke="#111" textLength="69.5" lengthAdjust="spacing">SCD+anti-P-selectin</text>
<text transform="translate(173.45,376.15) rotate(-45)" font-size="8.1" text-anchor="middle" fill="#111" stroke="#111" x="-34.35" y="9.8">mAb</text>
<polyline points="56.9,275.4 56.9,273.2 91.1,273.2 91.1,275.4" fill="none" stroke="#333" stroke-width="1.1"/>
<text x="74.00" y="269.20" font-size="7.6" text-anchor="middle" fill="#111" stroke="#111" font-weight="normal" textLength="31.5" lengthAdjust="spacing">p=&lt;0.001</text>
<text transform="translate(26.8,320.8) rotate(-90) scale(0.68,1)" font-size="8.8" font-weight="bold" text-anchor="middle" fill="#111" stroke="#111" style="stroke-width:0.1px" textLength="56.91" lengthAdjust="spacing">WBC (10<tspan font-size="5.8" dy="-3.2">9</tspan><tspan dy="3.2">/L)</tspan></text>
<line x1="229.20" y1="267.20" x2="229.20" y2="368.80" stroke="#2a2a2a" stroke-width="1.6" />
<line x1="226.60" y1="368.00" x2="362.50" y2="368.00" stroke="#2a2a2a" stroke-width="1.6" />
<line x1="226.60" y1="368.00" x2="229.20" y2="368.00" stroke="#2a2a2a" stroke-width="1.0" />
<text x="223.20" y="370.95" font-size="8.2" text-anchor="end" fill="#111" stroke="#111" font-weight="normal" >0</text>
<line x1="226.60" y1="335.13" x2="229.20" y2="335.13" stroke="#2a2a2a" stroke-width="1.0" />
<text x="223.20" y="338.08" font-size="8.2" text-anchor="end" fill="#111" stroke="#111" font-weight="normal" >10</text>
<line x1="226.60" y1="302.26" x2="229.20" y2="302.26" stroke="#2a2a2a" stroke-width="1.0" />
<text x="223.20" y="305.21" font-size="8.2" text-anchor="end" fill="#111" stroke="#111" font-weight="normal" >20</text>
<line x1="226.60" y1="269.39" x2="229.20" y2="269.39" stroke="#2a2a2a" stroke-width="1.0" />
<text x="223.20" y="272.34" font-size="8.2" text-anchor="end" fill="#111" stroke="#111" font-weight="normal" >30</text>
<line x1="244.50" y1="368.00" x2="244.50" y2="371.20" stroke="#2a2a2a" stroke-width="1.0" />
<rect x="234.50" y="360.11" width="7.4" height="7.89" fill="#d98676"/>
<circle cx="238.20" cy="355.51" r="2.05" fill="#b8062c"/>
<circle cx="237.20" cy="356.50" r="2.05" fill="#b8062c"/>
<circle cx="239.20" cy="357.48" r="2.05" fill="#b8062c"/>
<circle cx="236.70" cy="358.14" r="2.05" fill="#b8062c"/>
<circle cx="239.70" cy="358.80" r="2.05" fill="#b8062c"/>
<circle cx="237.70" cy="359.78" r="2.05" fill="#b8062c"/>
<circle cx="239.00" cy="360.44" r="2.05" fill="#b8062c"/>
<circle cx="237.00" cy="361.43" r="2.05" fill="#b8062c"/>
<circle cx="239.40" cy="362.08" r="2.05" fill="#b8062c"/>
<circle cx="238.20" cy="363.07" r="2.05" fill="#b8062c"/>
<circle cx="237.40" cy="364.06" r="2.05" fill="#b8062c"/>
<circle cx="239.00" cy="365.04" r="2.05" fill="#b8062c"/>
<circle cx="237.90" cy="366.03" r="2.05" fill="#b8062c"/>
<circle cx="238.70" cy="367.01" r="2.05" fill="#b8062c"/>
<line x1="238.20" y1="357.15" x2="238.20" y2="364.71" stroke="#111" stroke-width="0.9" />
<line x1="236.40" y1="357.15" x2="240.00" y2="357.15" stroke="#111" stroke-width="0.9" />
<line x1="236.40" y1="364.71" x2="240.00" y2="364.71" stroke="#111" stroke-width="0.9" />
<rect x="247.10" y="362.74" width="7.4" height="5.26" fill="#a1a8d0"/>
<circle cx="250.80" cy="353.87" r="2.05" fill="#1c3c82"/>
<circle cx="251.10" cy="358.80" r="2.05" fill="#1c3c82"/>
<circle cx="249.80" cy="362.08" r="2.05" fill="#1c3c82"/>
<circle cx="251.80" cy="364.06" r="2.05" fill="#1c3c82"/>
<circle cx="251.40" cy="366.36" r="2.05" fill="#1c3c82"/>
<circle cx="250.20" cy="365.04" r="2.05" fill="#1c3c82"/>
<line x1="250.80" y1="358.47" x2="250.80" y2="367.01" stroke="#111" stroke-width="0.9" />
<line x1="249.00" y1="358.47" x2="252.60" y2="358.47" stroke="#111" stroke-width="0.9" />
<line x1="249.00" y1="367.01" x2="252.60" y2="367.01" stroke="#111" stroke-width="0.9" />
<text transform="translate(247.50,377.20) rotate(-45)" font-size="8.1" text-anchor="end" fill="#111" stroke="#111" >Non-SCD</text>
<line x1="279.20" y1="368.00" x2="279.20" y2="371.20" stroke="#2a2a2a" stroke-width="1.0" />
<rect x="269.20" y="349.92" width="7.4" height="18.08" fill="#d98676"/>
<circle cx="272.10" cy="328.23" r="2.05" fill="#b8062c"/>
<circle cx="272.90" cy="329.87" r="2.05" fill="#b8062c"/>
<circle cx="273.70" cy="332.17" r="2.05" fill="#b8062c"/>
<circle cx="273.40" cy="333.82" r="2.05" fill="#b8062c"/>
<circle cx="272.90" cy="338.42" r="2.05" fill="#b8062c"/>
<circle cx="273.30" cy="340.72" r="2.05" fill="#b8062c"/>
<circle cx="271.90" cy="343.35" r="2.05" fill="#b8062c"/>
<circle cx="273.90" cy="346.63" r="2.05" fill="#b8062c"/>
<circle cx="271.50" cy="347.95" r="2.05" fill="#b8062c"/>
<circle cx="274.30" cy="349.59" r="2.05" fill="#b8062c"/>
<circle cx="272.30" cy="350.91" r="2.05" fill="#b8062c"/>
<circle cx="273.70" cy="352.55" r="2.05" fill="#b8062c"/>
<circle cx="271.70" cy="353.87" r="2.05" fill="#b8062c"/>
<circle cx="274.00" cy="355.51" r="2.05" fill="#b8062c"/>
<circle cx="272.40" cy="357.15" r="2.05" fill="#b8062c"/>
<circle cx="273.80" cy="358.80" r="2.05" fill="#b8062c"/>
<circle cx="271.90" cy="360.44" r="2.05" fill="#b8062c"/>
<circle cx="273.50" cy="362.08" r="2.05" fill="#b8062c"/>
<circle cx="272.50" cy="363.73" r="2.05" fill="#b8062c"/>
<circle cx="273.20" cy="365.37" r="2.05" fill="#b8062c"/>
<circle cx="272.90" cy="367.34" r="2.05" fill="#b8062c"/>
<circle cx="274.40" cy="344.99" r="2.05" fill="#b8062c"/>
<circle cx="271.40" cy="348.61" r="2.05" fill="#b8062c"/>
<line x1="272.90" y1="339.40" x2="272.90" y2="362.08" stroke="#111" stroke-width="0.9" />
<line x1="271.10" y1="339.40" x2="274.70" y2="339.40" stroke="#111" stroke-width="0.9" />
<line x1="271.10" y1="362.08" x2="274.70" y2="362.08" stroke="#111" stroke-width="0.9" />
<rect x="281.80" y="332.17" width="7.4" height="35.83" fill="#a1a8d0"/>
<circle cx="285.50" cy="303.25" r="2.05" fill="#1c3c82"/>
<circle cx="285.00" cy="319.02" r="2.05" fill="#1c3c82"/>
<circle cx="285.80" cy="323.95" r="2.05" fill="#1c3c82"/>
<circle cx="286.50" cy="326.58" r="2.05" fill="#1c3c82"/>
<circle cx="284.70" cy="328.88" r="2.05" fill="#1c3c82"/>
<circle cx="286.10" cy="332.17" r="2.05" fill="#1c3c82"/>
<circle cx="284.50" cy="335.13" r="2.05" fill="#1c3c82"/>
<circle cx="286.30" cy="339.73" r="2.05" fill="#1c3c82"/>
<circle cx="285.10" cy="342.36" r="2.05" fill="#1c3c82"/>
<circle cx="286.70" cy="344.00" r="2.05" fill="#1c3c82"/>
<circle cx="284.30" cy="337.43" r="2.05" fill="#1c3c82"/>
<line x1="285.50" y1="318.69" x2="285.50" y2="344.33" stroke="#111" stroke-width="0.9" />
<line x1="283.70" y1="318.69" x2="287.30" y2="318.69" stroke="#111" stroke-width="0.9" />
<line x1="283.70" y1="344.33" x2="287.30" y2="344.33" stroke="#111" stroke-width="0.9" />
<text transform="translate(282.20,377.20) rotate(-45)" font-size="8.1" text-anchor="end" fill="#111" stroke="#111" >SCD</text>
<line x1="313.60" y1="368.00" x2="313.60" y2="371.20" stroke="#2a2a2a" stroke-width="1.0" />
<rect x="316.20" y="343.02" width="7.4" height="24.98" fill="#a1a8d0"/>
<circle cx="321.40" cy="326.26" r="2.05" fill="#1c3c82"/>
<circle cx="318.90" cy="328.56" r="2.05" fill="#1c3c82"/>
<circle cx="319.90" cy="338.42" r="2.05" fill="#1c3c82"/>
<circle cx="318.90" cy="347.29" r="2.05" fill="#1c3c82"/>
<circle cx="319.90" cy="356.50" r="2.05" fill="#1c3c82"/>
<line x1="319.90" y1="328.56" x2="319.90" y2="354.85" stroke="#111" stroke-width="0.9" />
<line x1="318.10" y1="328.56" x2="321.70" y2="328.56" stroke="#111" stroke-width="0.9" />
<line x1="318.10" y1="354.85" x2="321.70" y2="354.85" stroke="#111" stroke-width="0.9" />
<text transform="translate(316.60,377.20) rotate(-45)" font-size="8.1" text-anchor="end" fill="#111" stroke="#111" >SCD+IgG</text>
<line x1="348.00" y1="368.00" x2="348.00" y2="371.20" stroke="#2a2a2a" stroke-width="1.0" />
<rect x="350.60" y="322.97" width="7.4" height="45.03" fill="#a1a8d0"/>
<circle cx="354.30" cy="289.11" r="2.05" fill="#1c3c82"/>
<circle cx="354.30" cy="303.25" r="2.05" fill="#1c3c82"/>
<circle cx="353.30" cy="321.98" r="2.05" fill="#1c3c82"/>
<circle cx="355.30" cy="325.27" r="2.05" fill="#1c3c82"/>
<circle cx="353.30" cy="330.20" r="2.05" fill="#1c3c82"/>
<circle cx="354.80" cy="341.70" r="2.05" fill="#1c3c82"/>
<circle cx="354.30" cy="346.63" r="2.05" fill="#1c3c82"/>
<line x1="354.30" y1="302.26" x2="354.30" y2="339.73" stroke="#111" stroke-width="0.9" />
<line x1="352.50" y1="302.26" x2="356.10" y2="302.26" stroke="#111" stroke-width="0.9" />
<line x1="352.50" y1="339.73" x2="356.10" y2="339.73" stroke="#111" stroke-width="0.9" />
<text transform="translate(351.85,376.35) rotate(-45)" font-size="8.1" text-anchor="end" fill="#111" stroke="#111" textLength="69.5" lengthAdjust="spacing">SCD+anti-P-selectin</text>
<text transform="translate(351.85,376.35) rotate(-45)" font-size="8.1" text-anchor="middle" fill="#111" stroke="#111" x="-34.35" y="9.8">mAb</text>
<polyline points="239.8,297.5 239.8,295.3 268.4,295.3 268.4,297.5" fill="none" stroke="#333" stroke-width="1.1"/>
<text x="254.10" y="292.50" font-size="7.6" text-anchor="middle" fill="#111" stroke="#111" font-weight="normal" textLength="24.0" lengthAdjust="spacing">p=0.01</text>
<polyline points="283.0,280.8 283.0,278.6 352.5,278.6 352.5,280.8" fill="none" stroke="#333" stroke-width="1.1"/>
<text x="317.75" y="275.80" font-size="7.6" text-anchor="middle" fill="#111" stroke="#111" font-weight="normal" textLength="24.0" lengthAdjust="spacing">p=0.04</text>
<polyline points="281.6,291.4 281.6,289.2 325.4,289.2 325.4,291.4" fill="none" stroke="#333" stroke-width="1.1"/>
<text x="303.50" y="286.50" font-size="7.6" text-anchor="middle" fill="#111" stroke="#111" font-weight="normal" textLength="23.7" lengthAdjust="spacing">p=0.05</text>
<polyline points="317.4,303.3 317.4,301.1 348.0,301.1 348.0,303.3" fill="none" stroke="#333" stroke-width="1.1"/>
<text x="332.70" y="298.20" font-size="7.6" text-anchor="middle" fill="#111" stroke="#111" font-weight="normal" textLength="28.0" lengthAdjust="spacing">p=0.003</text>
<text transform="translate(209.0,318.4) rotate(-90) scale(0.68,1)" font-size="8.8" font-weight="bold" text-anchor="middle" fill="#111" stroke="#111" style="stroke-width:0.1px" textLength="54.71" lengthAdjust="spacing">NEU (10<tspan font-size="5.8" dy="-3.2">9</tspan><tspan dy="3.2">/L)</tspan></text>
<circle cx="380.20" cy="270.80" r="1.9" fill="#b8062c"/>
<circle cx="380.20" cy="284.20" r="1.9" fill="#1c3c82"/>
<text x="385.30" y="273.60" font-size="6.9" text-anchor="start" fill="#111" stroke="#111" font-weight="normal" >Baseline</text>
<text x="385.30" y="286.60" font-size="6.9" text-anchor="start" fill="#111" stroke="#111" font-weight="normal" >Post-LPS</text>
<rect x="0" y="0" width="520" height="1" fill="#000"/><rect x="0" y="0" width="1" height="434" fill="#000"/><rect x="518.8" y="0" width="1.2" height="434" fill="#000"/><rect x="0" y="432.8" width="520" height="1.2" fill="#000"/>
</svg>
</body></html>
